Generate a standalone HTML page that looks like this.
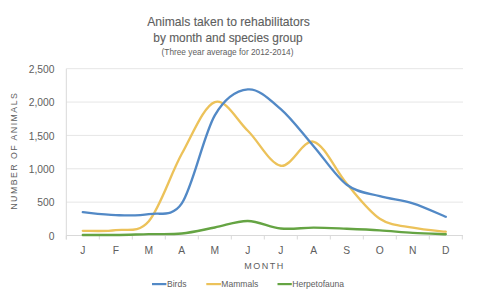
<!DOCTYPE html>
<html><head><meta charset="utf-8"><style>
html,body{margin:0;padding:0;background:#fff;}
body{width:480px;height:299px;overflow:hidden;}
svg{display:block;}
text{font-family:"Liberation Sans",sans-serif;fill:#5E5E5E;}
.ax{font-size:10.3px;}
.yt{font-size:8.8px;letter-spacing:1.45px;}
.mt{font-size:9px;letter-spacing:1.5px;}
.t1{font-size:12px;stroke:#5E5E5E;stroke-width:0.12px;}
.t2{font-size:8.3px;}
.lg{font-size:8.55px;}
</style></head><body>
<svg width="480" height="299" viewBox="0 0 480 299">
<rect width="480" height="299" fill="#fff"/>
<text x="228.5" y="26.3" text-anchor="middle" class="t1" style="font-size:12.15px">Animals taken to rehabilitators</text>
<text x="228" y="41.8" text-anchor="middle" class="t1" style="font-size:11.9px">by month and species group</text>
<text x="227.5" y="54.5" text-anchor="middle" class="t2">(Three year average for 2012-2014)</text>
<line x1="66.3" y1="202.14" x2="463" y2="202.14" stroke="#E6E6E6" stroke-width="1"/>
<line x1="66.3" y1="168.78" x2="463" y2="168.78" stroke="#E6E6E6" stroke-width="1"/>
<line x1="66.3" y1="135.42" x2="463" y2="135.42" stroke="#E6E6E6" stroke-width="1"/>
<line x1="66.3" y1="102.06" x2="463" y2="102.06" stroke="#E6E6E6" stroke-width="1"/>
<line x1="66.3" y1="68.70" x2="463" y2="68.70" stroke="#E6E6E6" stroke-width="1"/>

<line x1="66.3" y1="235.5" x2="463" y2="235.5" stroke="#D9D9D9" stroke-width="1"/>
<line x1="66.3" y1="68.69999999999999" x2="66.3" y2="239.5" stroke="#D9D9D9" stroke-width="1"/>
<line x1="66.30" y1="235.50" x2="66.30" y2="239.5" stroke="#D9D9D9" stroke-width="1"/>
<line x1="99.30" y1="235.50" x2="99.30" y2="239.5" stroke="#D9D9D9" stroke-width="1"/>
<line x1="132.30" y1="235.50" x2="132.30" y2="239.5" stroke="#D9D9D9" stroke-width="1"/>
<line x1="165.30" y1="235.50" x2="165.30" y2="239.5" stroke="#D9D9D9" stroke-width="1"/>
<line x1="198.30" y1="235.50" x2="198.30" y2="239.5" stroke="#D9D9D9" stroke-width="1"/>
<line x1="231.30" y1="235.50" x2="231.30" y2="239.5" stroke="#D9D9D9" stroke-width="1"/>
<line x1="264.30" y1="235.50" x2="264.30" y2="239.5" stroke="#D9D9D9" stroke-width="1"/>
<line x1="297.30" y1="235.50" x2="297.30" y2="239.5" stroke="#D9D9D9" stroke-width="1"/>
<line x1="330.30" y1="235.50" x2="330.30" y2="239.5" stroke="#D9D9D9" stroke-width="1"/>
<line x1="363.30" y1="235.50" x2="363.30" y2="239.5" stroke="#D9D9D9" stroke-width="1"/>
<line x1="396.30" y1="235.50" x2="396.30" y2="239.5" stroke="#D9D9D9" stroke-width="1"/>
<line x1="429.30" y1="235.50" x2="429.30" y2="239.5" stroke="#D9D9D9" stroke-width="1"/>
<line x1="462.30" y1="235.50" x2="462.30" y2="239.5" stroke="#D9D9D9" stroke-width="1"/>

<text x="54.5" y="239.60" text-anchor="end" class="ax">0</text>
<text x="54.5" y="206.24" text-anchor="end" class="ax">500</text>
<text x="54.5" y="172.88" text-anchor="end" class="ax">1,000</text>
<text x="54.5" y="139.52" text-anchor="end" class="ax">1,500</text>
<text x="54.5" y="106.16" text-anchor="end" class="ax">2,000</text>
<text x="54.5" y="72.80" text-anchor="end" class="ax">2,500</text>

<text x="82.80" y="254.4" text-anchor="middle" class="ax">J</text>
<text x="115.80" y="254.4" text-anchor="middle" class="ax">F</text>
<text x="148.80" y="254.4" text-anchor="middle" class="ax">M</text>
<text x="181.80" y="254.4" text-anchor="middle" class="ax">A</text>
<text x="214.80" y="254.4" text-anchor="middle" class="ax">M</text>
<text x="247.80" y="254.4" text-anchor="middle" class="ax">J</text>
<text x="280.80" y="254.4" text-anchor="middle" class="ax">J</text>
<text x="313.80" y="254.4" text-anchor="middle" class="ax">A</text>
<text x="346.80" y="254.4" text-anchor="middle" class="ax">S</text>
<text x="379.80" y="254.4" text-anchor="middle" class="ax">O</text>
<text x="412.80" y="254.4" text-anchor="middle" class="ax">N</text>
<text x="445.80" y="254.4" text-anchor="middle" class="ax">D</text>

<text transform="translate(16.8 150.7) rotate(-90)" text-anchor="middle" class="yt">NUMBER OF ANIMALS</text>
<text x="264.5" y="269.3" text-anchor="middle" class="mt">MONTH</text>
<path d="M82.80 235.03 C88.30 235.02 104.80 235.11 115.80 234.97 C126.80 234.82 137.80 234.41 148.80 234.17 C159.80 233.92 170.80 234.61 181.80 233.50 C192.80 232.39 203.80 229.58 214.80 227.49 C225.80 225.40 236.80 220.79 247.80 220.96 C258.80 221.12 269.80 227.37 280.80 228.49 C291.80 229.62 302.80 227.65 313.80 227.69 C324.80 227.74 335.80 228.33 346.80 228.76 C357.80 229.19 368.80 229.62 379.80 230.30 C390.80 230.97 401.80 232.18 412.80 232.83 C423.80 233.49 440.30 234.00 445.80 234.23" fill="none" stroke="#65A443" stroke-width="2.35" stroke-linecap="round"/>
<path d="M82.80 230.83 C88.30 230.72 104.80 231.77 115.80 230.16 C126.80 228.55 137.80 233.89 148.80 221.16 C159.80 208.42 170.80 173.62 181.80 153.77 C192.80 133.92 203.80 105.90 214.80 102.06 C225.80 98.22 236.80 120.13 247.80 130.75 C258.80 141.37 269.80 163.94 280.80 165.78 C291.80 167.61 302.80 138.76 313.80 141.76 C324.80 144.76 335.80 170.97 346.80 183.79 C357.80 196.61 368.80 211.37 379.80 218.69 C390.80 226.00 401.80 225.53 412.80 227.69 C423.80 229.86 440.30 231.03 445.80 231.70" fill="none" stroke="#ECC25A" stroke-width="2.35" stroke-linecap="round"/>
<path d="M82.80 212.15 C88.30 212.65 104.80 214.82 115.80 215.15 C126.80 215.48 137.80 216.10 148.80 214.15 C159.80 212.20 172.16 217.89 181.80 203.47 C192.80 187.02 203.80 134.42 214.80 115.40 C225.32 97.22 236.80 90.44 247.80 89.38 C258.80 88.33 269.80 99.56 280.80 109.07 C291.80 118.57 302.80 133.81 313.80 146.43 C324.80 159.05 335.80 176.51 346.80 184.79 C357.80 193.08 368.80 193.05 379.80 196.14 C390.80 199.22 401.80 199.84 412.80 203.27 C423.80 206.71 440.30 214.51 445.80 216.75" fill="none" stroke="#5289C6" stroke-width="2.35" stroke-linecap="round"/>
<line x1="152" y1="284.1" x2="166.4" y2="284.1" stroke="#5289C6" stroke-width="2.2"/>
<text x="167" y="287.2" class="lg">Birds</text>
<line x1="206.3" y1="284.1" x2="221" y2="284.1" stroke="#ECC25A" stroke-width="2.2"/>
<text x="221.3" y="287.2" class="lg">Mammals</text>
<line x1="277.5" y1="284.1" x2="291.8" y2="284.1" stroke="#65A443" stroke-width="2.2"/>
<text x="292.3" y="287.2" class="lg">Herpetofauna</text>
</svg>
</body></html>
